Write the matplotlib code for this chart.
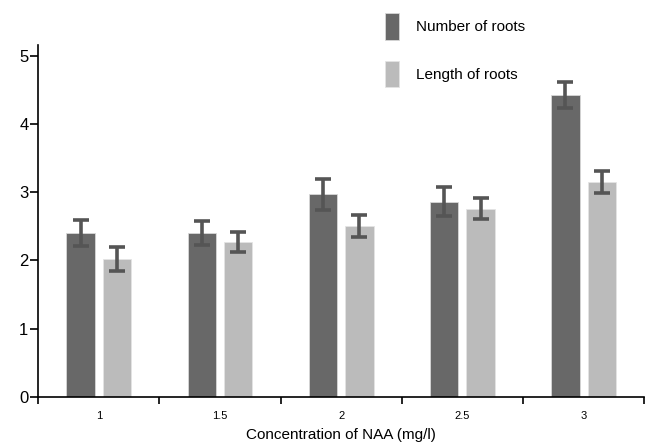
import numpy as np
import matplotlib.pyplot as plt

concentrations = ["1", "1.5", "2", "2.5", "3"]
num_roots = [2.40, 2.40, 2.97, 2.86, 4.43]
num_roots_err = [0.19, 0.18, 0.23, 0.21, 0.19]
len_roots = [2.02, 2.27, 2.50, 2.76, 3.15]
len_roots_err = [0.18, 0.14, 0.16, 0.16, 0.16]

plt.rcParams['font.family'] = ['Liberation Sans', 'DejaVu Sans']

fig = plt.figure(figsize=(6.58, 4.45), dpi=100)
ax = fig.add_axes([0.058, 0.108, 0.921, 0.79])

x = np.arange(len(concentrations))
w = 0.235
err_kw = dict(ecolor='#555555', elinewidth=2.6, capsize=6, capthick=2.6)
ax.bar(x - 0.15, num_roots, w, yerr=num_roots_err, color='#686868',
       edgecolor='#d8d8d8', linewidth=0.6, error_kw=err_kw, label='Number of roots')
ax.bar(x + 0.15, len_roots, w, yerr=len_roots_err, color='#bbbbbb',
       edgecolor='#e4e4e4', linewidth=0.6, error_kw=err_kw, label='Length of roots')

ax.set_xlim(-0.5, 4.5)
ax.set_ylim(0, 5.15)
ax.set_yticks([0, 1, 2, 3, 4, 5])
ax.set_xticks(x)
ax.set_xticklabels(concentrations, fontsize=8)
ax.set_xticks(np.arange(-0.5, 4.6, 1), minor=True)
ax.tick_params(axis='x', which='major', length=0, pad=10)
ax.tick_params(axis='x', which='minor', length=5, width=1.2, direction='out')
ax.tick_params(axis='y', length=6, width=1.2, labelsize=12, pad=1)

for s in ['top', 'right']:
    ax.spines[s].set_visible(False)
ax.spines['left'].set_linewidth(1.2)
ax.spines['bottom'].set_linewidth(1.2)

ax.set_xlabel('Concentration of NAA (mg/l)', fontsize=11, labelpad=5)

ax.legend(loc='upper left', bbox_to_anchor=(0.55, 1.13), frameon=False,
          fontsize=11, handlelength=0.9, handleheight=2.3, labelspacing=1.35,
          handletextpad=1.1)

fig.savefig('out.png', dpi=100)
